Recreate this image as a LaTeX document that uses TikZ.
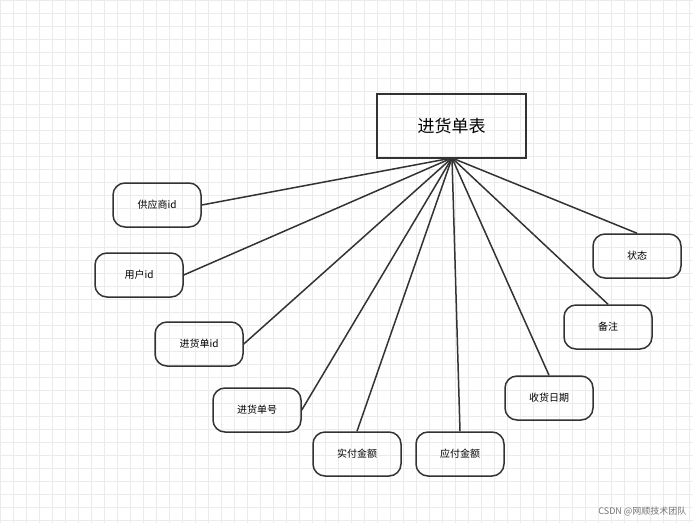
\documentclass[tikz,border=0pt]{standalone}
\usepackage{fontspec}
\setmainfont{Noto Sans CJK SC}
\usetikzlibrary{positioning}
\tikzset{
  field/.style={draw=black!80,line width=1.5pt,rounded corners=12pt,minimum width=88pt,minimum height=44pt,font=\fontsize{10}{12}\selectfont,inner sep=0pt},
  table/.style={draw=black!80,line width=1.5pt,minimum width=149pt,minimum height=64pt,font=\fontsize{17}{20}\selectfont},
  link/.style={draw=black!80,line width=1.5pt}
}
\begin{document}
\begin{tikzpicture}[x=1pt,y=-1pt]
\fill[white] (0,0) rectangle (693,523);
\useasboundingbox (0,0) rectangle (693,523);
\draw[black!8,step=13pt] (0,0) grid (693,523);

\node[table]   (tab)  at (451.5,126)  {进货单表};
\coordinate    (hub)  at (452,158);

\node[field]   (supp) at (157,205)  {供应商id};
\node[field]   (user) at (139,275)  {用户id};
\node[field]   (pid)  at (199,344)  {进货单id};
\node[field]   (pno)  at (257,410)  {进货单号};
\node[field]   (paid) at (357,454)  {实付金额};
\node[field]   (due)  at (460,454)  {应付金额};
\node[field]   (date) at (549,398)  {收货日期};
\node[field]   (note) at (608,327)  {备注};
\node[field]   (stat) at (637,256)  {状态};

\foreach \n/\a in {supp/east,user/east,pid/east,pno/east,paid/north,due/north,date/north,note/north,stat/north}
  \draw[link] (hub) -- (\n.\a);

\node[font=\fontsize{9}{11}\selectfont,text=black!55,anchor=south east] (mark) at (690,520) {CSDN @网顺技术团队};
\end{tikzpicture}
\end{document}
